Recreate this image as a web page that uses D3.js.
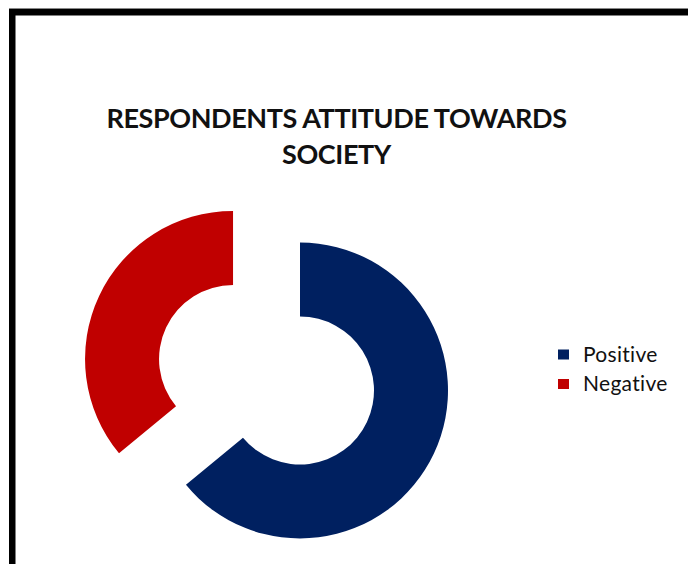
<!DOCTYPE html>
<html>
<head>
<meta charset="utf-8">
<script src="https://cdn.jsdelivr.net/npm/d3@7/dist/d3.min.js"></script>
<style>
  html, body { margin: 0; padding: 0; background: #fff; }
  svg { display: block; }
</style>
</head>
<body>
<svg id="chart" width="688" height="564"></svg>
<script>
// Survey shares, in percent
const categories = ["Positive", "Negative"];
const values = [64, 36];
const colors = ["#002060", "#C00000"];
const exploded = [false, true];
const titleLines = ["RESPONDENTS ATTITUDE TOWARDS", "SOCIETY"];

const svg = d3.select("#chart");
const W = 688, H = 564;

svg.append("rect").attr("width", W).attr("height", H).attr("fill", "#fff");

// Frame: heavy rule along top and left
svg.append("rect").attr("x", 9).attr("y", 9).attr("width", W - 9).attr("height", 6.5).attr("fill", "#000");
svg.append("rect").attr("x", 9).attr("y", 9).attr("width", 6.5).attr("height", H - 9).attr("fill", "#000");
svg.append("line").attr("x1", 9).attr("x2", W).attr("y1", 8.5).attr("y2", 8.5).attr("stroke", "#888").attr("stroke-width", 1);

// Title
const title = svg.append("text")
  .attr("text-anchor", "middle")
  .attr("font-family", "Lato, 'Open Sans', sans-serif")
  .attr("font-weight", "bold")
  .attr("font-size", 27)
  .attr("letter-spacing", -0.4)
  .attr("fill", "#111");
titleLines.forEach((t, i) => {
  title.append("tspan").attr("x", 336.5).attr("y", 127.5 + i * 36).text(t);
});

// Donut
const cx = 300, cy = 390.5, outerR = 148, innerR = 74, explode = 74;
const pie = d3.pie().sort(null).startAngle(0).endAngle(2 * Math.PI);
const arc = d3.arc().innerRadius(innerR).outerRadius(outerR);
const arcs = pie(values);

const g = svg.append("g").attr("transform", `translate(${cx},${cy})`);
g.selectAll("path")
  .data(arcs)
  .join("path")
  .attr("d", arc)
  .attr("fill", (d, i) => colors[i])
  .attr("transform", (d, i) => {
    if (!exploded[i]) return null;
    const a = (d.startAngle + d.endAngle) / 2;
    return `translate(${explode * Math.sin(a)},${-explode * Math.cos(a)})`;
  });

// Legend
const ly = d3.scalePoint().domain(categories).range([354.5, 384]);
const lg = svg.append("g");
const item = lg.selectAll("g").data(categories).join("g")
  .attr("transform", d => `translate(558,${ly(d)})`);
item.append("rect")
  .attr("x", 0).attr("y", -5).attr("width", 11).attr("height", 10)
  .attr("fill", (d, i) => colors[i]);
item.append("text")
  .attr("x", 25).attr("y", 7)
  .attr("font-family", "Lato, 'Open Sans', sans-serif")
  .attr("font-size", 21)
  .attr("letter-spacing", 0.3)
  .attr("fill", "#111")
  .text(d => d);
</script>
</body>
</html>
